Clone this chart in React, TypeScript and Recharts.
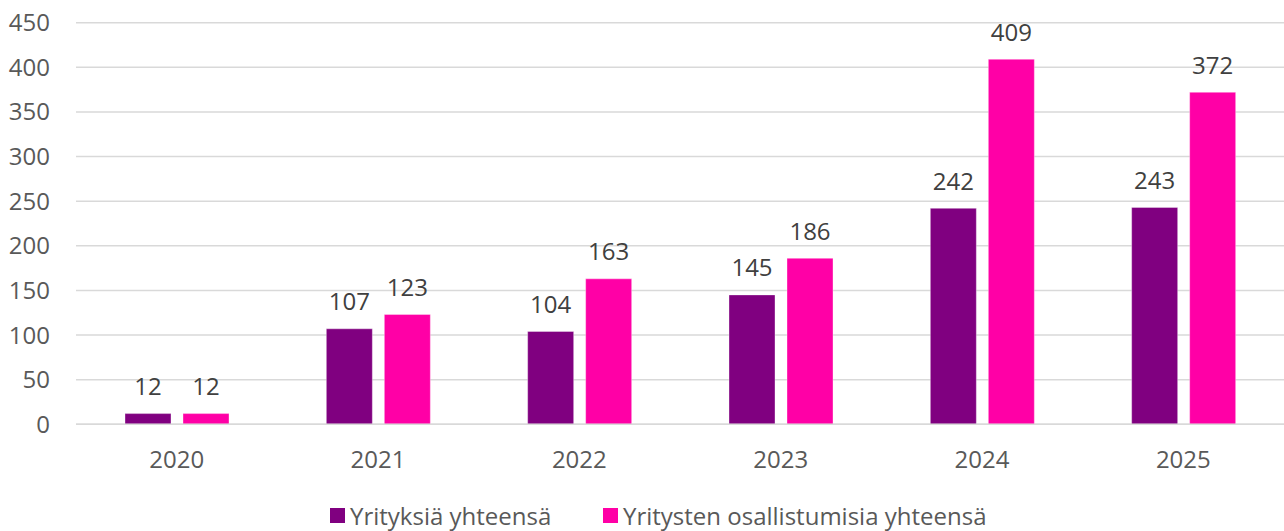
import React from "react";
import { BarChart, Bar, XAxis, YAxis, CartesianGrid, Legend, LabelList } from "recharts";

const years = ["2020", "2021", "2022", "2023", "2024", "2025"];
const yrityksia = [12, 107, 104, 145, 242, 243];
const osallistumisia = [12, 123, 163, 186, 409, 372];
const yTicks = [0, 50, 100, 150, 200, 250, 300, 350, 400, 450];

const PURPLE = "#800080";
const PINK = "#ff00a6";
const FONT = "'Open Sans', sans-serif";

const data = years.map((year, i) => ({
  year,
  yrityksia: yrityksia[i],
  osallistumisia: osallistumisia[i],
}));

function ChartLegend() {
  const items = [
    { label: "Yrityksiä yhteensä", color: PURPLE, left: 330 },
    { label: "Yritysten osallistumisia yhteensä", color: PINK, left: 603 },
  ];
  return (
    <div style={{ position: "relative", width: 1284, height: 31, fontFamily: FONT }}>
      {items.map((it) => (
        <div
          key={it.label}
          style={{
            position: "absolute",
            left: it.left,
            top: 0,
            height: 31,
            display: "flex",
            alignItems: "center",
            whiteSpace: "nowrap",
          }}
        >
          <span style={{ width: 15, height: 15, background: it.color, marginRight: 5, display: "inline-block" }} />
          <span style={{ fontSize: 24, color: "#595959" }}>{it.label}</span>
        </div>
      ))}
    </div>
  );
}

export default function App() {
  const tick = { fill: "#595959", fontSize: 24, fontFamily: FONT };
  const label = { fill: "#404040", fontSize: 24, fontFamily: FONT };
  return (
    <div style={{ position: "absolute", left: 0, top: 0, background: "#fff" }}>
      <BarChart
        width={1284}
        height={531}
        data={data}
        margin={{ top: 22.7, right: 0, bottom: 0, left: 0 }}
        barGap={12}
        barCategoryGap={49}
      >
        <CartesianGrid vertical={false} stroke="#d9d9d9" strokeWidth={1.5} />
        <XAxis
          dataKey="year"
          height={75.7}
          tickLine={false}
          tickSize={0}
          tickMargin={27}
          axisLine={{ stroke: "#d9d9d9", strokeWidth: 1.5 }}
          tick={tick}
        />
        <YAxis
          width={76}
          domain={[0, 450]}
          ticks={yTicks}
          interval={0}
          axisLine={false}
          tickLine={false}
          tickSize={0}
          tickMargin={26}
          tick={tick}
        />
        <Legend verticalAlign="bottom" content={() => <ChartLegend />} />
        <Bar dataKey="yrityksia" fill={PURPLE} stroke="rgba(255,255,255,0.35)" strokeWidth={1} isAnimationActive={false}>
          <LabelList dataKey="yrityksia" position="top" offset={18.6} style={label} />
        </Bar>
        <Bar dataKey="osallistumisia" fill={PINK} stroke="rgba(255,255,255,0.35)" strokeWidth={1} isAnimationActive={false}>
          <LabelList dataKey="osallistumisia" position="top" offset={18.6} style={label} />
        </Bar>
      </BarChart>
    </div>
  );
}
